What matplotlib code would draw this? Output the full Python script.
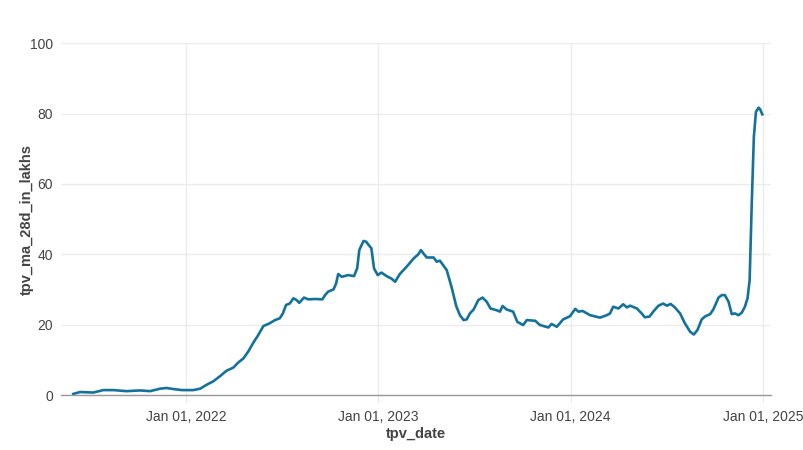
import matplotlib
matplotlib.use("Agg")
import matplotlib.pyplot as plt
import matplotlib.dates as mdates
import pandas as pd

# 28-day moving average of TPV (in lakhs)
tpv_date = [
    "2021-06-01", "2021-06-14", "2021-07-09", "2021-07-28", "2021-08-16", "2021-09-10",
    "2021-10-06", "2021-10-25", "2021-11-13", "2021-11-25", "2021-12-08", "2021-12-24",
    "2022-01-15", "2022-01-28", "2022-02-09", "2022-02-22", "2022-03-07", "2022-03-19",
    "2022-04-01", "2022-04-10", "2022-04-20", "2022-04-29", "2022-05-09", "2022-05-18",
    "2022-05-28", "2022-06-09", "2022-06-19", "2022-06-28", "2022-07-04", "2022-07-10",
    "2022-07-17", "2022-07-24", "2022-07-30", "2022-08-04", "2022-08-13", "2022-08-21",
    "2022-09-03", "2022-09-17", "2022-09-22", "2022-09-28", "2022-10-08", "2022-10-13",
    "2022-10-17", "2022-10-24", "2022-11-05", "2022-11-16", "2022-11-22", "2022-11-26",
    "2022-12-04", "2022-12-09", "2022-12-13", "2022-12-19", "2022-12-24", "2022-12-31",
    "2023-01-07", "2023-01-17", "2023-01-26", "2023-02-02", "2023-02-11", "2023-02-24",
    "2023-03-09", "2023-03-18", "2023-03-23", "2023-03-28", "2023-04-03", "2023-04-16",
    "2023-04-22", "2023-04-28", "2023-05-11", "2023-05-20", "2023-05-29", "2023-06-05",
    "2023-06-12", "2023-06-18", "2023-06-24", "2023-07-01", "2023-07-10", "2023-07-18",
    "2023-07-26", "2023-08-02", "2023-08-14", "2023-08-20", "2023-08-25", "2023-09-02",
    "2023-09-14", "2023-09-22", "2023-10-03", "2023-10-10", "2023-10-26", "2023-11-04",
    "2023-11-20", "2023-11-26", "2023-12-06", "2023-12-18", "2023-12-31", "2024-01-10",
    "2024-01-16", "2024-01-24", "2024-02-07", "2024-02-26", "2024-03-10", "2024-03-16",
    "2024-03-22", "2024-04-01", "2024-04-10", "2024-04-17", "2024-04-23", "2024-05-06",
    "2024-05-15", "2024-05-21", "2024-05-30", "2024-06-06", "2024-06-16", "2024-06-25",
    "2024-07-02", "2024-07-09", "2024-07-17", "2024-07-27", "2024-08-05", "2024-08-15",
    "2024-08-22", "2024-08-29", "2024-09-06", "2024-09-12", "2024-09-22", "2024-09-28",
    "2024-10-08", "2024-10-14", "2024-10-20", "2024-10-27", "2024-11-02", "2024-11-08",
    "2024-11-15", "2024-11-21", "2024-11-27", "2024-12-02", "2024-12-06", "2024-12-10",
    "2024-12-14", "2024-12-18", "2024-12-23", "2024-12-26", "2024-12-30",
]
tpv_ma_28d_in_lakhs = [
    0.3, 0.85, 0.7, 1.4, 1.4, 1.1,
    1.3, 1.1, 1.8, 2.0, 1.7, 1.4,
    1.4, 1.8, 2.9, 3.9, 5.4, 6.9,
    7.8, 9.2, 10.4, 12.3, 14.9, 17.0,
    19.6, 20.4, 21.3, 21.8, 23.2, 25.6,
    26.0, 27.5, 27.0, 26.2, 27.7, 27.2,
    27.3, 27.2, 28.4, 29.4, 30.0, 31.7,
    34.4, 33.6, 34.1, 33.8, 36.0, 41.2,
    43.8, 43.6, 42.8, 41.7, 36.0, 34.1,
    34.8, 33.8, 33.1, 32.2, 34.4, 36.5,
    38.8, 40.0, 41.2, 40.2, 39.1, 39.1,
    37.9, 38.2, 35.5, 30.8, 25.3, 22.7,
    21.3, 21.5, 23.2, 24.3, 27.0, 27.7,
    26.5, 24.6, 24.1, 23.7, 25.3, 24.3,
    23.7, 20.8, 19.9, 21.3, 21.1, 19.9,
    19.2, 20.2, 19.4, 21.5, 22.4, 24.5,
    23.7, 23.9, 22.7, 22.0, 22.7, 23.2,
    25.1, 24.6, 25.8, 24.9, 25.4, 24.6,
    23.2, 22.1, 22.3, 23.7, 25.4, 26.0,
    25.4, 25.9, 24.9, 23.2, 20.4, 18.0,
    17.2, 18.5, 21.5, 22.3, 23.0, 24.3,
    27.7, 28.4, 28.4, 26.5, 23.0, 23.2,
    22.7, 23.4, 25.1, 27.5, 32.7, 54.5,
    73.4, 80.5, 81.7, 81.2, 79.8,
]
x_ticks = ["2022-01-01", "2023-01-01", "2024-01-01", "2025-01-01"]
y_ticks = [0, 20, 40, 60, 80, 100]

dates = pd.to_datetime(tpv_date)

plt.rcParams["font.family"] = ["Liberation Sans", "DejaVu Sans"]

fig = plt.figure(figsize=(8.04, 4.5), dpi=100)
ax = fig.add_axes([0.076, 0.1222, 0.8826, 0.7816])

ax.plot(dates, tpv_ma_28d_in_lakhs, color="#14729a", linewidth=1.9, solid_joinstyle="round")

ax.set_xlim(pd.Timestamp("2021-05-09"), pd.Timestamp("2025-01-15"))
ax.set_ylim(0, 100)
ax.set_xticks(pd.to_datetime(x_ticks))
ax.xaxis.set_major_formatter(mdates.DateFormatter("%b %d, %Y"))
ax.set_yticks(y_ticks)

ax.grid(True, color="#ebebeb", linewidth=1.0)
ax.set_axisbelow(True)
for side in ["top", "right", "left"]:
    ax.spines[side].set_visible(False)
ax.spines["bottom"].set_color("#9a9a9a")
ax.spines["bottom"].set_linewidth(1.0)

ax.tick_params(axis="x", length=5, color="#e6e6e6", labelsize=10, labelcolor="#444444", pad=6)
ax.tick_params(axis="y", length=0, labelsize=10, labelcolor="#444444", pad=6)

ax.set_xlabel("tpv_date", fontsize=10.5, fontweight="bold", color="#444444", labelpad=2)
ax.set_ylabel("tpv_ma_28d_in_lakhs", fontsize=10.5, fontweight="bold", color="#444444")
ax.yaxis.set_label_coords(-0.039, 0.5)

fig.savefig("out.png", dpi=100)
